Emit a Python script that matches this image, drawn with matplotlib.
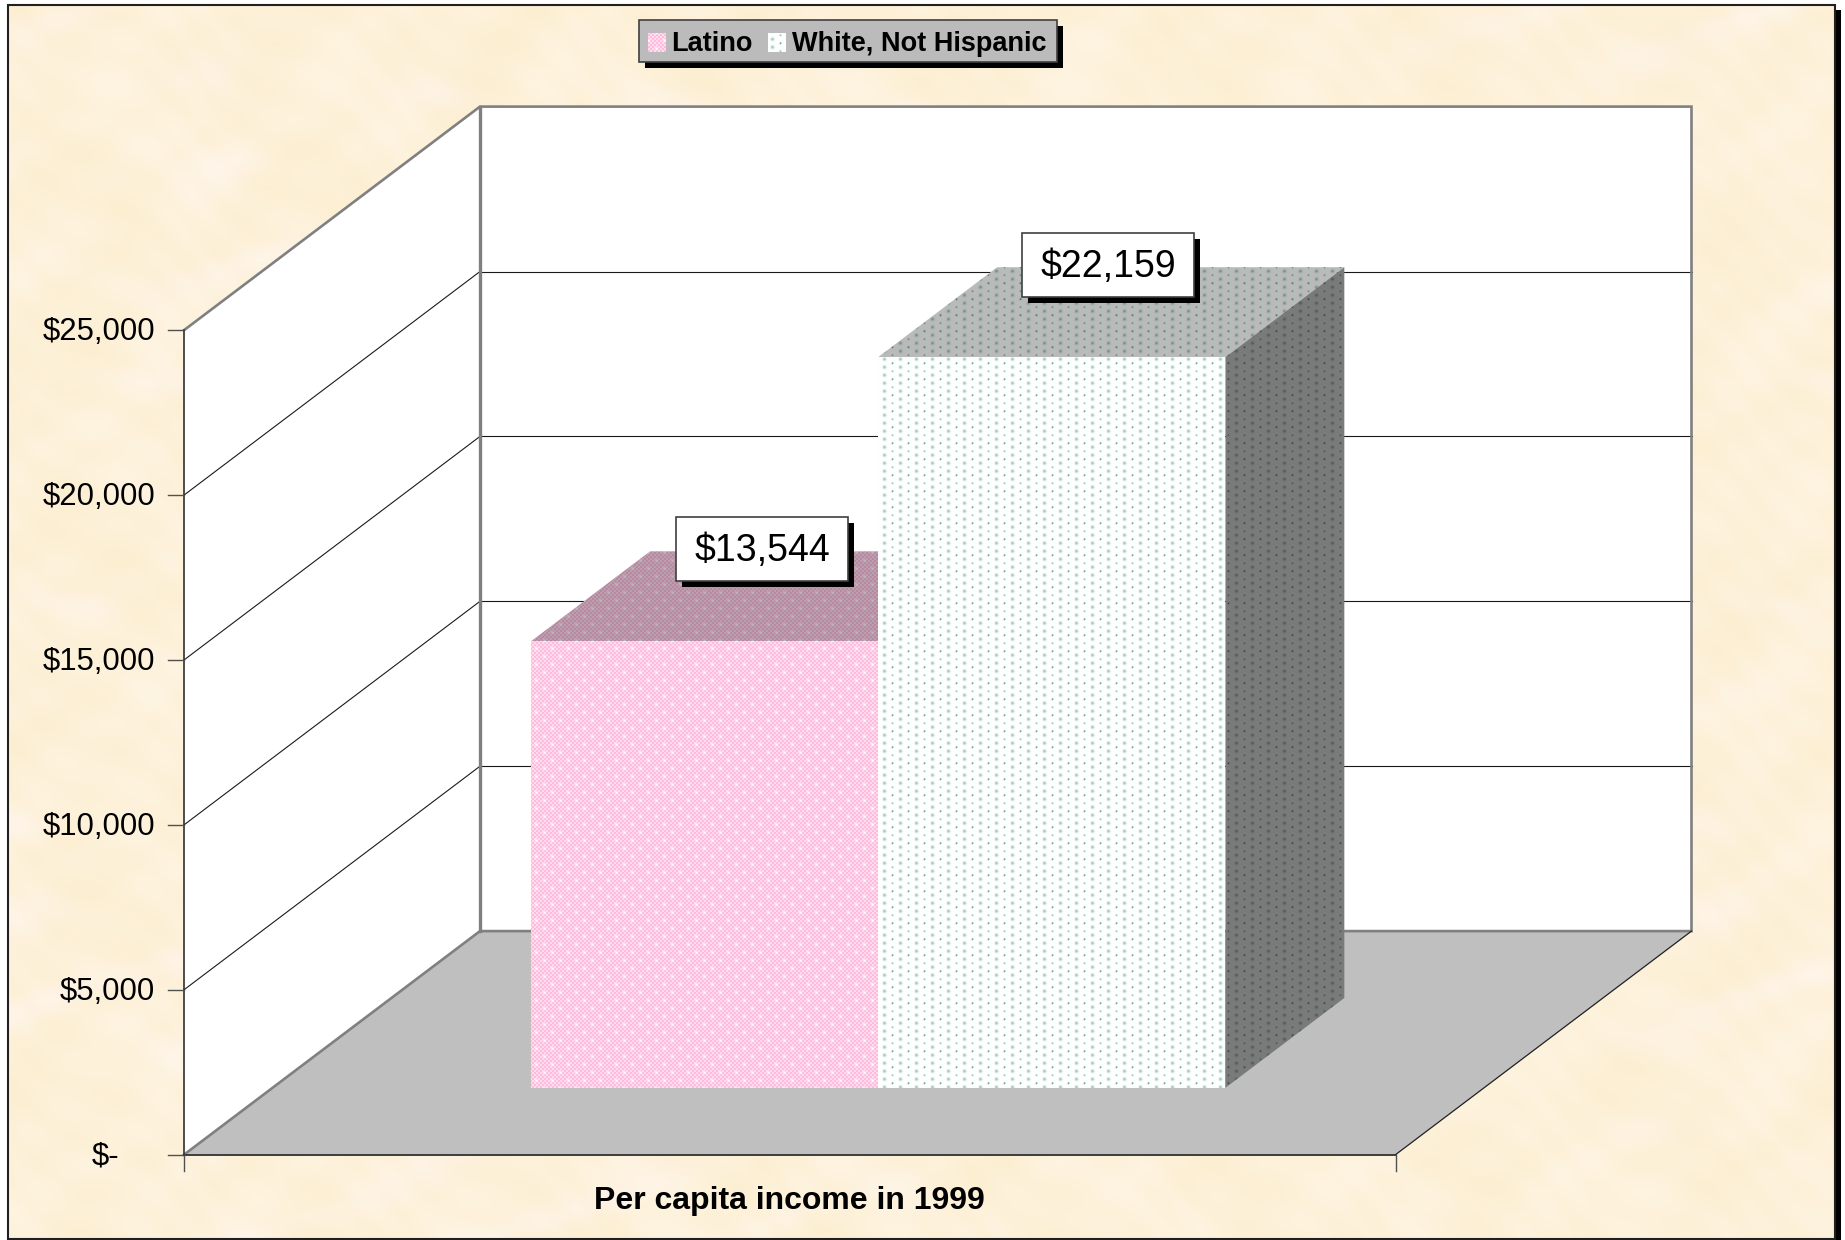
#!/usr/bin/env python3
"""
Per capita income in 1999, drawn as an Excel style 3D column chart.
"""

import numpy as np
import matplotlib

matplotlib.use("Agg")
import matplotlib.pyplot as plt
from matplotlib.patches import Polygon, Rectangle

plt.rcParams["font.family"] = ["Liberation Sans", "DejaVu Sans"]

# Data
series_names = ["Latino", "White, Not Hispanic"]
series_values = [13544, 22159]
value_labels = ["$13,544", "$22,159"]
tick_values = [0, 5000, 10000, 15000, 20000, 25000]
tick_labels = ["$-", "$5,000", "$10,000", "$15,000", "$20,000", "$25,000"]
category_label = "Per capita income in 1999"

# Figure size in pixels
W, H = 1845, 1240

# Chart box: front left corner, scales and the depth shift
ORIGIN_X, ORIGIN_Y = 184.0, 1154.7
FLOOR_WIDTH = 1211.5
WALL_HEIGHT = 824.5
DEPTH_DX, DEPTH_DY = 296.0, -223.6
VALUE_MAX = tick_values[-1]
GAP = 1.49  # gap width, as a share of a column


def project(x, value, depth):
    """Category position (0-1), value and depth (0-1) to pixels."""
    px = ORIGIN_X + x * FLOOR_WIDTH + depth * DEPTH_DX
    py = ORIGIN_Y - value / VALUE_MAX * WALL_HEIGHT + depth * DEPTH_DY
    return px, py


def wrap(a, period):
    return (a + period / 2) % period - period / 2


def paper_texture():
    """Soft cream mottling built from layered sines."""
    y, x = np.mgrid[0:H, 0:W].astype(float)
    t = (
        np.sin(x / 37.0 + 1.3 * np.sin(y / 53.0))
        + np.sin(y / 29.0 + 1.7 * np.sin(x / 41.0) + 0.6)
        + 0.8 * np.sin((x + y) / 17.0 + np.sin(y / 23.0))
        + 0.8 * np.sin((x - 1.4 * y) / 11.0 + 2.0 * np.sin(x / 31.0))
    ) / 3.6
    p = np.sin(x / 67.0 + 2.0 * np.sin(y / 39.0)) * np.sin(y / 31.0 + x / 89.0)
    t = np.clip(t, -1, 1)
    p = np.clip(p, 0, 1) ** 3
    base = np.array([253.0, 241.0, 217.0])
    dark = np.array([-1.0, -3.0, -9.0])
    pink = np.array([1.0, 2.0, 10.0])
    img = base + t[..., None] * dark + p[..., None] * pink
    return np.clip(img, 0, 255).astype(np.uint8)


def pink_texture():
    """Fine pink checker with staggered white dots."""
    y, x = np.mgrid[0:H, 0:W].astype(float)
    check = ((x // 2 + y // 2) % 2)[..., None]
    img = check * np.array([255, 186, 222]) + (1 - check) * np.array([255, 219, 238])
    d = np.minimum(
        wrap(x, 16) ** 2 + wrap(y, 16) ** 2,
        wrap(x + 8, 16) ** 2 + wrap(y + 8, 16) ** 2,
    )
    dots = np.exp(-d / 2.4)[..., None]
    return img * (1 - dots) + 255 * dots


def green_texture():
    """White with staggered green dots: soft round ones and sharper dark ones."""
    y, x = np.mgrid[0:H, 0:W].astype(float)
    soft = 0.5 * np.exp(-(wrap(x - 4, 16) ** 2 + wrap(y - 6.7, 8) ** 2) / 2.6)
    sharp_strong = 0.85 * np.exp(-(wrap(x - 12, 16) ** 2 + wrap(y - 10.7, 16) ** 2) / 0.9)
    sharp_light = 0.55 * np.exp(-(wrap(x - 12, 16) ** 2 + wrap(y - 2.7, 16) ** 2) / 0.9)
    green = np.array([30, 150, 100])
    amount = np.clip(soft + sharp_strong + sharp_light, 0, 1)[..., None]
    return 255 * (1 - amount) + green * amount


def shaded(img, factor):
    return np.clip(img * factor, 0, 255).astype(np.uint8)


def textured_face(ax, img, points, zorder):
    face = Polygon(points, closed=True, transform=ax.transData, facecolor="none", edgecolor="none")
    ax.add_patch(face)
    im = ax.imshow(img, extent=(0, W, H, 0), interpolation="nearest", aspect="auto", zorder=zorder)
    im.set_clip_path(face)


def shadow_box(ax, x0, y0, x1, y1, facecolor, offset, zorder, edgecolor="#404040"):
    ax.add_patch(Rectangle((x0 + offset, y0 + offset), x1 - x0, y1 - y0, facecolor="black", edgecolor="none", zorder=zorder))
    ax.add_patch(Rectangle((x0, y0), x1 - x0, y1 - y0, facecolor=facecolor, edgecolor=edgecolor, linewidth=1.2, zorder=zorder + 0.1))


fig = plt.figure(figsize=(W / 100, H / 100), dpi=100, facecolor="white")
ax = fig.add_axes([0, 0, 1, 1])
ax.axis("off")

# Page background and frame
FRAME = (7.5, 4.5, 1835.0, 1238.5)
ax.add_patch(Rectangle((FRAME[2], 10), 6, H, facecolor="black", edgecolor="none", zorder=0))
paper = ax.imshow(paper_texture(), extent=(0, W, H, 0), interpolation="nearest", aspect="auto", zorder=0.5)
clip = Rectangle((FRAME[0], FRAME[1]), FRAME[2] - FRAME[0], FRAME[3] - FRAME[1], transform=ax.transData)
paper.set_clip_path(clip)
ax.add_patch(Rectangle((FRAME[0], FRAME[1]), FRAME[2] - FRAME[0], FRAME[3] - FRAME[1], facecolor="none", edgecolor="#202020", linewidth=1.5, zorder=0.6))

# Walls and floor
top = tick_values[-1]
ax.add_patch(Polygon([project(0, 0, 0), project(0, top, 0), project(0, top, 1), project(0, 0, 1)], facecolor="white", edgecolor="none", zorder=1))
ax.add_patch(Polygon([project(0, 0, 1), project(0, top, 1), project(1, top, 1), project(1, 0, 1)], facecolor="white", edgecolor="none", zorder=1))
ax.add_patch(Polygon([project(0, 0, 0), project(1, 0, 0), project(1, 0, 1), project(0, 0, 1)], facecolor="#BFBFBF", edgecolor="none", zorder=1.1))

# Gridlines on both walls
for v in tick_values[1:-1]:
    xs, ys = zip(project(0, v, 0), project(0, v, 1))
    ax.plot(xs, ys, color="#1a1a1a", linewidth=0.8, zorder=1.2)
    xs, ys = zip(project(0, v, 1), project(1, v, 1))
    ax.plot(xs, ys, color="#1a1a1a", linewidth=0.8, zorder=1.2)

# Wall outline
WALL_GREY = "#808080"
xs, ys = zip(project(0, top, 0), project(0, top, 1), project(1, top, 1), project(1, 0, 1), project(0, 0, 1), project(0, 0, 0))
ax.plot(xs, ys, color=WALL_GREY, linewidth=1.9, zorder=1.3, solid_joinstyle="miter")
xs, ys = zip(project(0, top, 1), project(0, 0, 1))
ax.plot(xs, ys, color=WALL_GREY, linewidth=2.4, zorder=1.3)
xs, ys = zip(project(1, 0, 0), project(1, 0, 1))
ax.plot(xs, ys, color="#202020", linewidth=0.9, zorder=1.3)

# Value axis and category axis lines with ticks
xs, ys = zip(project(0, 0, 0), project(0, top, 0))
ax.plot(xs, ys, color="#303030", linewidth=1.2, zorder=1.4)
xs, ys = zip(project(0, 0, 0), project(1, 0, 0))
ax.plot(xs, ys, color="#303030", linewidth=1.3, zorder=1.4)
TICK_LEN = 16
for v, label in zip(tick_values, tick_labels):
    px, py = project(0, v, 0)
    ax.plot([px - TICK_LEN, px], [py, py], color="#505050", linewidth=1.0, zorder=1.4)
    # the accounting format leaves extra room after the dash
    right = px - 29 if v > 0 else px - 65
    ax.text(right, py + 2, label, ha="right", va="center", fontsize=22.4, color="black", zorder=5)
for x in [0, 1]:
    px, py = project(x, 0, 0)
    ax.plot([px, px], [py, py + TICK_LEN], color="#505050", linewidth=1.0, zorder=1.4)

# Columns
n = len(series_values)
col_w = 1 / (n + GAP)
depth_0, depth_1 = GAP / 2 / (1 + GAP), 1 - GAP / 2 / (1 + GAP)
textures = [pink_texture(), green_texture()]
for i, value in enumerate(series_values):
    x0 = GAP / 2 * col_w + i * col_w
    x1 = x0 + col_w
    tex = textures[i]
    z = 2 + i
    textured_face(ax, shaded(tex, 0.73), [project(x0, value, depth_0), project(x1, value, depth_0), project(x1, value, depth_1), project(x0, value, depth_1)], z)
    textured_face(ax, shaded(tex, 0.48), [project(x1, 0, depth_0), project(x1, 0, depth_1), project(x1, value, depth_1), project(x1, value, depth_0)], z)
    textured_face(ax, shaded(tex, 1.0), [project(x0, 0, depth_0), project(x1, 0, depth_0), project(x1, value, depth_0), project(x0, value, depth_0)], z + 0.1)

# Data labels
LABEL_BOXES = [(676, 517, 848, 581), (1022, 233, 1194, 297)]
for (x0, y0, x1, y1), label in zip(LABEL_BOXES, value_labels):
    shadow_box(ax, x0, y0, x1, y1, "white", 6, 6)
    ax.text((x0 + x1) / 2, (y0 + y1) / 2 + 2.5, label, ha="center", va="center", fontsize=27, color="black", zorder=7)

# Category label
ax.text(789, 1209, category_label, ha="center", va="baseline", fontsize=23, fontweight="bold", color="black", zorder=5)

# Legend
shadow_box(ax, 639, 20, 1057, 62, "#BBBBBB", 5.5, 6)
SWATCHES = [(648, 33, 666, 52), (768, 33, 786, 52)]
LEGEND_TEXT_X = [671, 792]
for (x0, y0, x1, y1), tex, name, tx in zip(SWATCHES, textures, series_names, LEGEND_TEXT_X):
    textured_face(ax, shaded(tex, 1.0), [(x0, y0), (x1, y0), (x1, y1), (x0, y1)], 7)
    ax.text(tx, 51, name, ha="left", va="baseline", fontsize=19.5, fontweight="bold", color="black", zorder=7)

ax.set_xlim(0, W)
ax.set_ylim(H, 0)

fig.savefig("out.png", dpi=100)
